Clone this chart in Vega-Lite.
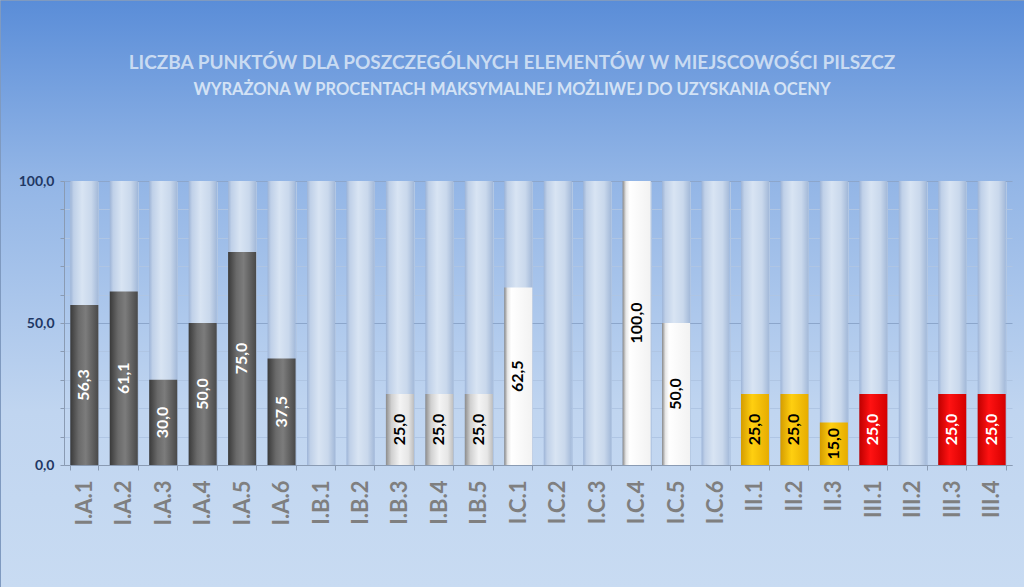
{
  "$schema": "https://vega.github.io/schema/vega-lite/v6.json",
  "width": 1024,
  "height": 587,
  "autosize": "none",
  "padding": 0,
  "background": "#C6D9F1",
  "view": {
    "fill": {"gradient": "linear", "x1": 0, "y1": 0, "x2": 0, "y2": 1,
      "stops": [
        {"offset": 0, "color": "#5A8DD8"},
        {"offset": 0.3, "color": "#92B5E6"},
        {"offset": 0.7, "color": "#C0D5F0"},
        {"offset": 1, "color": "#C8DBF2"}
      ]},
    "stroke": "#7F9AC0",
    "strokeWidth": 1
  },
  "config": {
    "locale": {"number": {"decimal": ",", "thousands": "\u00a0", "grouping": [3], "currency": ["", " zł"]}}
  },
  "title": {
    "text": "LICZBA PUNKTÓW  DLA POSZCZEGÓLNYCH ELEMENTÓW   W MIEJSCOWOŚCI PILSZCZ",
    "subtitle": "WYRAŻONA W PROCENTACH MAKSYMALNEJ MOŻLIWEJ  DO UZYSKANIA OCENY",
    "anchor": "middle",
    "frame": "group",
    "offset": -98,
    "font": "Lato",
    "fontSize": 19,
    "fontWeight": "bold",
    "color": "#C9DBF2",
    "subtitleFont": "Lato",
    "subtitleFontSize": 16.5,
    "subtitleFontWeight": "bold",
    "subtitleColor": "#D3E2F5",
    "subtitlePadding": 9
  },
  "data": {"values": [
    {"cat": "I.A.1", "grp": "IA", "value": 56.3},
    {"cat": "I.A.2", "grp": "IA", "value": 61.1},
    {"cat": "I.A.3", "grp": "IA", "value": 30.0},
    {"cat": "I.A.4", "grp": "IA", "value": 50.0},
    {"cat": "I.A.5", "grp": "IA", "value": 75.0},
    {"cat": "I.A.6", "grp": "IA", "value": 37.5},
    {"cat": "I.B.1", "grp": "IB", "value": null},
    {"cat": "I.B.2", "grp": "IB", "value": null},
    {"cat": "I.B.3", "grp": "IB", "value": 25.0},
    {"cat": "I.B.4", "grp": "IB", "value": 25.0},
    {"cat": "I.B.5", "grp": "IB", "value": 25.0},
    {"cat": "I.C.1", "grp": "IC", "value": 62.5},
    {"cat": "I.C.2", "grp": "IC", "value": null},
    {"cat": "I.C.3", "grp": "IC", "value": null},
    {"cat": "I.C.4", "grp": "IC", "value": 100.0},
    {"cat": "I.C.5", "grp": "IC", "value": 50.0},
    {"cat": "I.C.6", "grp": "IC", "value": null},
    {"cat": "II.1", "grp": "II", "value": 25.0},
    {"cat": "II.2", "grp": "II", "value": 25.0},
    {"cat": "II.3", "grp": "II", "value": 15.0},
    {"cat": "III.1", "grp": "III", "value": 25.0},
    {"cat": "III.2", "grp": "III", "value": null},
    {"cat": "III.3", "grp": "III", "value": 25.0},
    {"cat": "III.4", "grp": "III", "value": 25.0}
  ]},
  "layer": [
    {
      "encoding": {
        "x": {
          "field": "cat", "type": "nominal",
          "scale": {
            "domain": ["I.A.1","I.A.2","I.A.3","I.A.4","I.A.5","I.A.6","I.B.1","I.B.2","I.B.3","I.B.4","I.B.5","I.C.1","I.C.2","I.C.3","I.C.4","I.C.5","I.C.6","II.1","II.2","II.3","III.1","III.2","III.3","III.4"],
            "range": [64, 1012],
            "paddingInner": 0.29,
            "paddingOuter": 0.16
          },
          "axis": {
            "orient": "bottom",
            "offset": -122,
            "title": null,
            "tickBand": "extent",
            "grid": false,
            "domainColor": "#8A9BB3",
            "tickColor": "#8A9BB3",
            "tickSize": 5,
            "labelAngle": 270,
            "labelFont": "Lato",
            "labelFontWeight": "bold",
            "labelFontSize": 22,
            "labelColor": "#7F7F7F",
            "labelPadding": 10
          }
        }
      },
      "layer": [
        {
          "mark": {"type": "bar", "color": {"gradient": "linear", "x1": 0, "y1": 0, "x2": 1, "y2": 0,
            "stops": [
              {"offset": 0, "color": "#9DB4D7"},
              {"offset": 0.12, "color": "#BFD0E8"},
              {"offset": 0.42, "color": "#D8E4F3"},
              {"offset": 0.75, "color": "#C9D8EC"},
              {"offset": 1, "color": "#A3B9D9"}
            ]}},
          "encoding": {
            "y": {
              "datum": 100, "type": "quantitative",
              "scale": {"domain": [0, 100], "range": [465, 181], "nice": false, "zero": true},
              "axis": {
                "title": null,
                "offset": -64,
                "values": [0, 10, 20, 30, 40, 50, 60, 70, 80, 90, 100],
                "format": ".1f",
                "labelExpr": "datum.value % 50 === 0 ? datum.label : ''",
                "grid": true,
                "gridColor": {"condition": {"test": "datum.value % 50 === 0", "value": "#8CA6CB"}, "value": "#AFC5E3"},
                "domainColor": "#8A9BB3",
                "tickColor": "#8A9BB3",
                "tickSize": 4,
                "labelFont": "Lato",
                "labelFontWeight": "bold",
                "labelFontSize": 14,
                "labelColor": "#1F3864",
                "labelPadding": 6
              }
            },
            "y2": {"datum": 0}
          }
        },
        {
          "transform": [{"filter": "datum.grp === 'IA'"}],
          "mark": {"type": "bar", "color": {"gradient": "linear", "x1": 0, "y1": 0, "x2": 1, "y2": 0,
            "stops": [
              {"offset": 0, "color": "#3A3A3A"},
              {"offset": 0.3, "color": "#6A6A6A"},
              {"offset": 0.55, "color": "#7C7C7C"},
              {"offset": 1, "color": "#494949"}
            ]}},
          "encoding": {"y": {"field": "value", "type": "quantitative"}, "y2": {"datum": 0}}
        },
        {
          "transform": [{"filter": "datum.grp === 'IB'"}],
          "mark": {"type": "bar", "color": {"gradient": "linear", "x1": 0, "y1": 0, "x2": 1, "y2": 0,
            "stops": [
              {"offset": 0, "color": "#8C8C8C"},
              {"offset": 0.2, "color": "#D0D0D0"},
              {"offset": 0.5, "color": "#F4F4F4"},
              {"offset": 0.8, "color": "#E6E6E6"},
              {"offset": 1, "color": "#BDBDBD"}
            ]}},
          "encoding": {"y": {"field": "value", "type": "quantitative"}, "y2": {"datum": 0}}
        },
        {
          "transform": [{"filter": "datum.grp === 'IC'"}],
          "mark": {"type": "bar", "color": {"gradient": "linear", "x1": 0, "y1": 0, "x2": 1, "y2": 0,
            "stops": [
              {"offset": 0, "color": "#888888"},
              {"offset": 0.12, "color": "#E6E6E6"},
              {"offset": 0.25, "color": "#FFFFFF"},
              {"offset": 1, "color": "#F2F2F2"}
            ]}},
          "encoding": {"y": {"field": "value", "type": "quantitative"}, "y2": {"datum": 0}}
        },
        {
          "transform": [{"filter": "datum.grp === 'II'"}],
          "mark": {"type": "bar", "color": {"gradient": "linear", "x1": 0, "y1": 0, "x2": 1, "y2": 0,
            "stops": [
              {"offset": 0, "color": "#D49C00"},
              {"offset": 0.4, "color": "#FFCF10"},
              {"offset": 1, "color": "#E6AC00"}
            ]}},
          "encoding": {"y": {"field": "value", "type": "quantitative"}, "y2": {"datum": 0}}
        },
        {
          "transform": [{"filter": "datum.grp === 'III'"}],
          "mark": {"type": "bar", "color": {"gradient": "linear", "x1": 0, "y1": 0, "x2": 1, "y2": 0,
            "stops": [
              {"offset": 0, "color": "#BE0000"},
              {"offset": 0.4, "color": "#FF1212"},
              {"offset": 1, "color": "#D40000"}
            ]}},
          "encoding": {"y": {"field": "value", "type": "quantitative"}, "y2": {"datum": 0}}
        }
      ]
    },
    {
      "mark": {"type": "text", "angle": 270, "align": "center", "baseline": "middle", "font": "Lato", "fontWeight": "bold", "fontSize": 16},
      "encoding": {
        "x": {
          "field": "cat", "type": "nominal",
          "axis": {
            "orient": "top",
            "title": null,
            "tickBand": "extent",
            "grid": true,
            "gridColor": "#B2C7E4",
            "domain": false,
            "ticks": false,
            "labels": false
          }
        },
        "y": {"field": "value", "type": "quantitative", "scale": {"domain": [0, 200], "range": [465, 181], "nice": false}, "axis": null},
        "text": {"field": "value", "type": "quantitative", "format": ".1f"},
        "color": {"field": "grp", "type": "nominal", "legend": null,
          "scale": {"domain": ["IA", "IB", "IC", "II", "III"], "range": ["#FFFFFF", "#000000", "#000000", "#000000", "#FFFFFF"]}}
      }
    }
  ],
  "resolve": {"scale": {"y": "independent"}, "axis": {"x": "independent"}}
}
